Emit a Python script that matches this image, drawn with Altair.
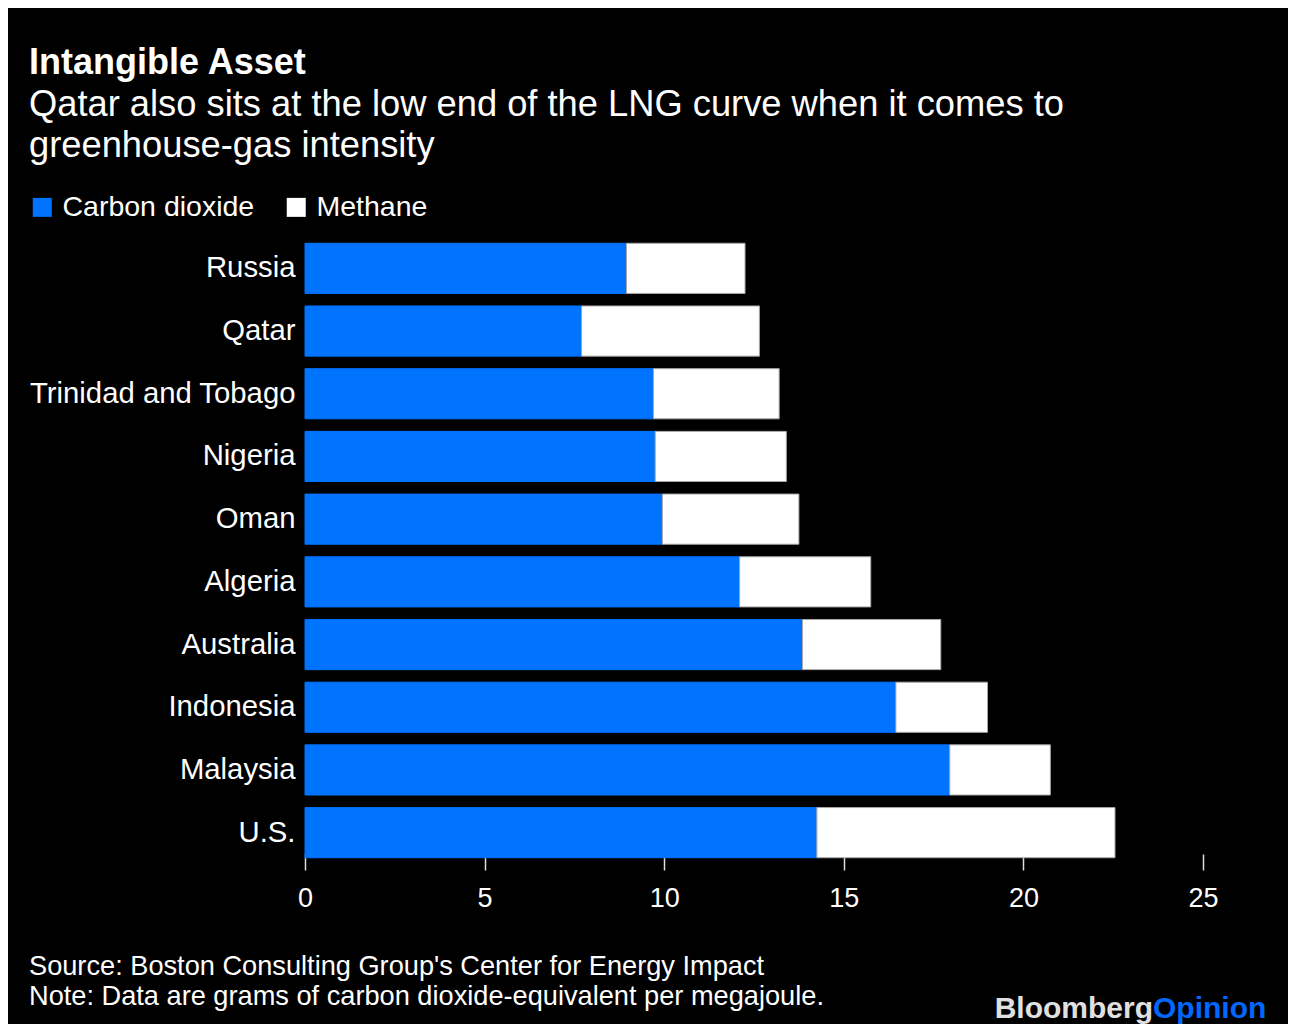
import altair as alt
import pandas as pd

# ---- data ----
COUNTRIES = ["Russia", "Qatar", "Trinidad and Tobago", "Nigeria", "Oman",
             "Algeria", "Australia", "Indonesia", "Malaysia", "U.S."]
CO2 = [8.95, 7.7, 9.7, 9.75, 9.95, 12.1, 13.85, 16.45, 17.95, 14.25]
METHANE = [3.3, 4.95, 3.5, 3.65, 3.8, 3.65, 3.85, 2.55, 2.8, 8.3]
SERIES = ["Carbon dioxide", "Methane"]
X_TICKS = [0, 5, 10, 15, 20, 25]

TITLE = "Intangible Asset"
SUBTITLE_LINES = ["Qatar also sits at the low end of the LNG curve when it comes to",
                  "greenhouse-gas intensity"]
FOOTER_LINES = ["Source: Boston Consulting Group's Center for Energy Impact",
                "Note: Data are grams of carbon dioxide-equivalent per megajoule."]
LOGO_A = "Bloomberg"
LOGO_B = "Opinion"

FONT = "Liberation Sans"
BLUE = "#0073ff"

rows = []
for c, a, b in zip(COUNTRIES, CO2, METHANE):
    rows.append({"country": c, "kind": SERIES[0], "value": a, "order": 0})
    rows.append({"country": c, "kind": SERIES[1], "value": b, "order": 1})
df = pd.DataFrame(rows)

bars = alt.Chart(df).mark_bar(strokeWidth=1).encode(
    y=alt.Y("country:N", sort=COUNTRIES,
            scale=alt.Scale(paddingInner=0.2, paddingOuter=0.1),
            axis=alt.Axis(title=None, ticks=False, domain=False, labelFontSize=29.3,
                          labelColor="white", labelPadding=10, labelFont=FONT,
                          labelLimit=0)),
    x=alt.X("value:Q", stack="zero",
            scale=alt.Scale(domain=[0, 25], nice=False),
            axis=alt.Axis(title=None, values=X_TICKS, grid=False, domain=False,
                          tickColor="#dddddd", tickSize=16, tickWidth=1.5, offset=-10,
                          labelFontSize=27, labelColor="white", labelPadding=15,
                          labelFont=FONT, labelFlush=False)),
    color=alt.Color("kind:N", scale=alt.Scale(domain=SERIES, range=[BLUE, "#ffffff"]),
                    legend=alt.Legend(title=None, orient="none", direction="horizontal",
                                      legendX=-277, legendY=-44, symbolType="square",
                                      symbolSize=361, symbolStrokeWidth=0,
                                      labelFontSize=28.5, labelColor="white", labelFont=FONT,
                                      labelOffset=6, columnPadding=27, padding=0,
                                      labelLimit=0)),
    stroke=alt.Stroke("kind:N", scale=alt.Scale(domain=SERIES, range=[BLUE, "#a8a8a8"]),
                      legend=None),
    order=alt.Order("order:Q"),
)

def text_layer(txt, x, y, size, color="white", bold=False, align="left", line_height=None):
    kw = dict(align=align, baseline="alphabetic", fontSize=size, color=color, font=FONT,
              text=txt)
    if bold:
        kw["fontWeight"] = "bold"
    if line_height:
        kw["lineHeight"] = line_height
    return alt.Chart(pd.DataFrame({"k": [0]})).mark_text(**kw).encode(
        x=alt.value(x), y=alt.value(y))

title = text_layer(TITLE, -276, -163, 36, bold=True)
subtitle = text_layer(SUBTITLE_LINES, -276, -121, 36.3, line_height=41)
footer = text_layer(FOOTER_LINES, -276, 738, 27.2, line_height=30)
logo_a = text_layer(LOGO_A, 848, 781, 30, color="#e0e0e0", bold=True, align="right")
logo_b = text_layer(LOGO_B, 848, 781, 30, color="#0068ff", bold=True, align="left")

chart = alt.layer(bars, title, subtitle, footer, logo_a, logo_b).properties(
    width=898, height=627,
    autosize=alt.AutoSizeParams(type="none"),
    padding={"left": 297, "top": 229, "right": 85, "bottom": 160},
    background="black",
).configure_view(stroke=None)

chart.save("out.html", embed_options={"renderer": "svg", "actions": False})
